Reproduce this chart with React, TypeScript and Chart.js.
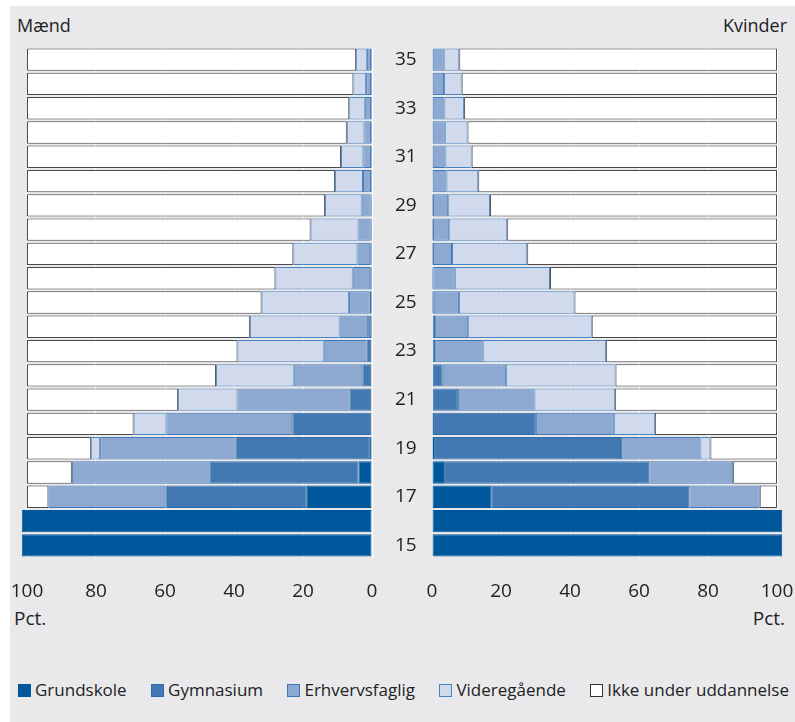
import React, { useEffect, useRef } from 'react';
import { Chart, registerables } from 'chart.js';

Chart.register(...registerables);

const ages = [35, 34, 33, 32, 31, 30, 29, 28, 27, 26, 25, 24, 23, 22, 21, 20, 19, 18, 17, 16, 15];
const seriesNames = ['Grundskole', 'Gymnasium', 'Erhvervsfaglig', 'Videregående', 'Ikke under uddannelse'];
const xTicks = [0, 20, 40, 60, 80, 100];

const menGrundskole = [0.1, 0.1, 0.1, 0.1, 0.1, 0.1, 0.1, 0.1, 0.1, 0.1, 0.1, 0.1, 0.2, 0.2, 0.2, 0.2, 0.8, 3.9, 18.9, 101.5, 101.5];
const menGymnasium = [0.2, 0.2, 0.2, 0.2, 0.2, 0.2, 0.3, 0.3, 0.4, 0.4, 0.6, 1.0, 1.4, 2.6, 6.3, 22.9, 38.8, 42.8, 41.0, 0, 0];
const menErhvervsfaglig = [1.2, 1.4, 1.8, 1.9, 2.2, 2.3, 2.6, 3.5, 3.7, 5.1, 6.0, 8.3, 12.4, 19.9, 32.5, 36.5, 39.2, 40.3, 33.9, 0, 0];
const menVideregaaende = [3.1, 3.7, 4.5, 5.1, 6.5, 8.1, 10.6, 13.9, 18.6, 22.4, 25.3, 26.0, 25.0, 22.5, 17.2, 9.5, 2.6, 0, 0, 0, 0];
const menIkke = [95.4, 94.6, 93.4, 92.7, 91.0, 89.3, 86.4, 82.2, 77.2, 72.0, 68.0, 64.6, 61.0, 54.8, 43.8, 30.9, 18.6, 13.0, 6.2, 0, 0];

const womenGrundskole = [0.1, 0.1, 0.1, 0.1, 0.1, 0.1, 0.1, 0.1, 0.1, 0.1, 0.1, 0.2, 0.2, 0.2, 0.2, 0.3, 0.6, 3.5, 17.3, 101.5, 101.5];
const womenGymnasium = [0.1, 0.1, 0.1, 0.1, 0.1, 0.1, 0.2, 0.2, 0.2, 0.3, 0.4, 0.7, 1.1, 2.9, 7.3, 29.8, 54.2, 59.5, 57.3, 0, 0];
const womenErhvervsfaglig = [3.2, 3.3, 3.4, 3.5, 3.7, 4.0, 4.4, 4.7, 5.5, 6.2, 7.3, 9.6, 13.4, 18.4, 22.2, 22.6, 23.0, 24.3, 20.4, 0, 0];
const womenVideregaaende = [4.5, 5.1, 5.7, 6.6, 7.6, 9.2, 12.1, 16.8, 21.8, 27.6, 33.5, 35.8, 35.7, 31.7, 23.3, 11.9, 2.9, 0, 0, 0, 0];
const womenIkke = [92.1, 91.4, 90.7, 89.7, 88.5, 86.6, 83.2, 78.2, 72.4, 65.8, 58.7, 53.7, 49.6, 46.8, 47.0, 35.4, 19.3, 12.7, 5.0, 0, 0];

const fills = ['#00589C', '#4379B3', '#8EA9D1', '#D0DAEC', '#FFFFFF'];
const borders = ['#00589C', '#2F6BAA', '#3D77B4', '#4A84C0', '#4A4A4A'];
const BG = '#E9E9EC';
const FONT = '"Open Sans", "Noto Sans", sans-serif';

function buildDatasets(values: number[][]) {
  return values.map((data, i) => ({
    label: seriesNames[i],
    data: data.map((v) => (v === 0 ? null : v)),
    backgroundColor: fills[i],
    borderColor: borders[i],
    borderWidth: 1,
    borderSkipped: false as const,
    barPercentage: 0.92,
    categoryPercentage: 1.0,
    clip: false as const,
  }));
}

function zeroPadding(scale: any) {
  scale.paddingLeft = 0;
  scale.paddingRight = 0;
  scale.paddingTop = 0;
  scale.paddingBottom = 0;
}

function makeConfig(values: number[][], left: boolean): any {
  return {
    type: 'bar',
    data: { labels: ages.map(String), datasets: buildDatasets(values) },
    options: {
      indexAxis: 'y',
      animation: false,
      responsive: false,
      maintainAspectRatio: false,
      layout: {
        padding: left ? { left: 17, right: 0, top: 7.5, bottom: 0 } : { left: 14, right: 18, top: 7.5, bottom: 0 },
      },
      plugins: { legend: { display: false }, tooltip: { enabled: false }, title: { display: false } },
      scales: {
        x: {
          stacked: true,
          reverse: left,
          min: 0,
          max: 100,
          afterBuildTicks: (scale: any) => {
            scale.ticks = xTicks.map((v) => ({ value: v }));
          },
          afterFit: (scale: any) => {
            scale.height = 44.5;
            zeroPadding(scale);
          },
          grid: { color: '#FFFFFF', lineWidth: 1, drawTicks: false },
          border: { display: false },
          ticks: {
            color: '#222222',
            font: { family: FONT, size: 19 },
            padding: 23,
            maxRotation: 0,
            autoSkip: false,
          },
        },
        y: {
          stacked: true,
          display: left,
          position: 'right',
          afterFit: (scale: any) => {
            if (left) scale.width = 60;
            zeroPadding(scale);
          },
          grid: { display: false, drawTicks: false },
          border: { display: false },
          ticks: {
            autoSkip: false,
            crossAlign: 'near',
            padding: 23,
            color: '#222222',
            font: { family: FONT, size: 19 },
            callback: (_v: any, idx: number) => (ages[idx] % 2 === 1 ? String(ages[idx]) : ''),
          },
        },
      },
    },
  };
}

function ChartCanvas({ values, left, x, width }: { values: number[][]; left: boolean; x: number; width: number }) {
  const ref = useRef<HTMLCanvasElement | null>(null);
  useEffect(() => {
    if (!ref.current) return;
    const chart = new Chart(ref.current, makeConfig(values, left));
    return () => chart.destroy();
  }, []);
  return (
    <canvas
      ref={ref}
      width={width}
      height={562}
      style={{ position: 'absolute', left: x, top: 40, width, height: 562 }}
    />
  );
}

const textStyle: React.CSSProperties = {
  position: 'absolute',
  fontFamily: FONT,
  color: '#222222',
  whiteSpace: 'nowrap',
  lineHeight: 1,
};

export default function App() {
  const menValues = [menGrundskole, menGymnasium, menErhvervsfaglig, menVideregaaende, menIkke];
  const womenValues = [womenGrundskole, womenGymnasium, womenErhvervsfaglig, womenVideregaaende, womenIkke];
  return (
    <div style={{ position: 'absolute', left: 0, top: 0, width: 795, height: 722, overflow: 'hidden' }}>
      <div style={{ position: 'absolute', left: 10, top: 6, width: 785, height: 716, background: BG }} />
      <div style={{ ...textStyle, left: 17, top: 16, fontSize: 18 }}>Mænd</div>
      <div style={{ ...textStyle, right: 8, top: 16, fontSize: 18 }}>Kvinder</div>
      <ChartCanvas values={menValues} left={true} x={10} width={422} />
      <ChartCanvas values={womenValues} left={false} x={418} width={377} />
      <div style={{ ...textStyle, left: 14, top: 609, fontSize: 19 }}>Pct.</div>
      <div style={{ ...textStyle, right: 10, top: 609, fontSize: 19 }}>Pct.</div>
      <div
        style={{
          position: 'absolute',
          left: 18,
          width: 771,
          top: 680,
          display: 'flex',
          justifyContent: 'space-between',
          alignItems: 'center',
          fontFamily: FONT,
          fontSize: 17,
          color: '#222222',
        }}
      >
        {seriesNames.map((name, i) => (
          <div key={name} style={{ display: 'flex', alignItems: 'center', whiteSpace: 'nowrap' }}>
            <span
              style={{
                display: 'inline-block',
                width: 11,
                height: 11,
                background: fills[i],
                border: `1px solid ${i === 4 ? '#333333' : borders[i]}`,
                marginRight: 4,
              }}
            />
            <span style={{ lineHeight: 1.2 }}>{name}</span>
          </div>
        ))}
      </div>
    </div>
  );
}
